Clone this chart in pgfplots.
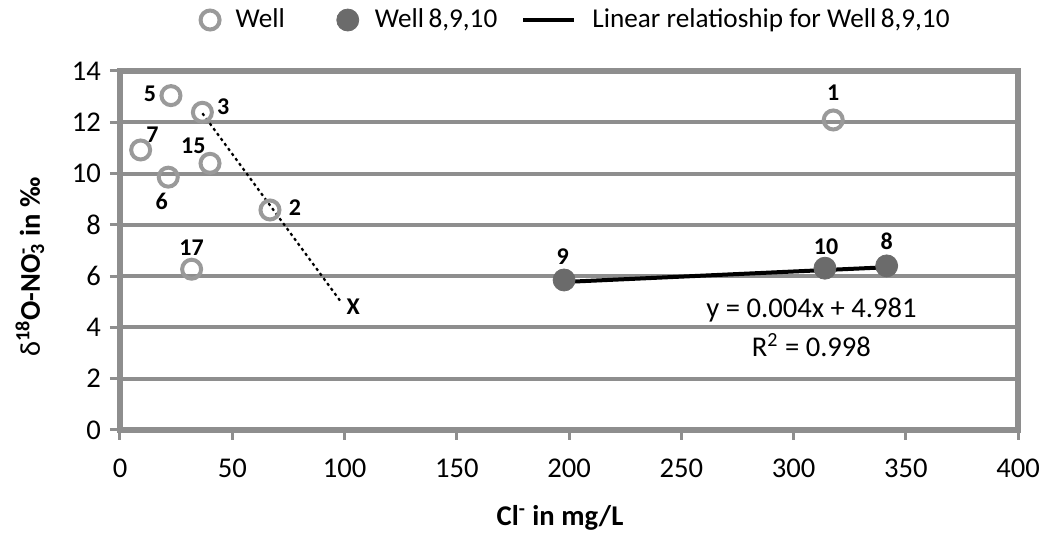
\documentclass[border=0pt]{standalone}
\usepackage{fontspec}
\setmainfont{Carlito}
\usepackage{pgfplots}
\pgfplotsset{compat=1.18}
\definecolor{axisgray}{HTML}{8E8E8E}
\definecolor{wellgray}{HTML}{9A9A9A}
\definecolor{darkwell}{HTML}{6B6B6B}

\begin{document}
\begin{tikzpicture}[font=\fontsize{14.3}{17}\selectfont]
\useasboundingbox (-60pt,-60pt) rectangle (462pt,215pt);
\begin{axis}[
  at={(0pt,0pt)}, anchor=south west,
  scale only axis, width=449pt, height=179.5pt,
  xmin=0, xmax=400, ymin=0, ymax=14,
  xtick={0,50,...,400}, ytick={0,2,...,14},
  xtick pos=lower, ytick pos=left,
  tick align=outside, major tick length=5pt,
  ymajorgrids, grid style={axisgray, line width=2pt},
  axis line style={axisgray, line width=3pt},
  tick style={axisgray, line width=1.5pt},
  /pgf/number format/assume math mode=true,
  xticklabel shift=6pt,
  yticklabel shift=1pt,
  xlabel={\bfseries Cl\textsuperscript{-} in mg/L},
  xlabel style={at={(axis description cs:0.49,-0.245)}, anchor=center},
  ylabel={δ\textbf{\textsuperscript{18}O-NO\rlap{\textsuperscript{-}}\textsubscript{3} in ‰}},
  ylabel style={at={(axis description cs:-0.1002,0.454)}, rotate=0, anchor=center},
  legend columns=3,
  legend style={draw=none, fill=none, at={(0.509,1.142)}, anchor=center,
    font=\fontsize{13.6}{16}\selectfont,
    /tikz/every odd column/.append style={column sep=6pt},
    /tikz/column 2/.style={column sep=24pt},
    /tikz/column 4/.style={column sep=10pt}},
  legend cell align=left,
]
% wells outside the 8/9/10 group
\addplot[only marks, mark=o, mark size=4.75pt,
  mark options={draw=wellgray, line width=2pt}]
  coordinates {(22.7,13.04) (36.7,12.39) (9.2,10.92) (40.1,10.40)
               (21.5,9.86) (66.8,8.58) (31.9,6.27) (317.7,12.09)};
\addlegendentry{Well}
% wells 8, 9 and 10
\addplot[only marks, mark=*, mark size=5.5pt,
  mark options={draw=darkwell, fill=darkwell}]
  coordinates {(197.8,5.85) (314.0,6.31) (341.5,6.40)};
\addlegendentry{Well\,8,9,10}
% trend line y = 0.004x + 4.981
\addplot[black, line width=2pt, forget plot]
  coordinates {(197.8,5.772) (341.5,6.347)};
\addlegendimage{black, line width=2pt, legend image post style={xscale=1.5}}
\addlegendentry{Linear relatioship for Well\,8,9,10}
% mixing line towards X
\addplot[black, line width=1.1pt, dash pattern=on 1.5pt off 1.6pt, forget plot]
  coordinates {(36.7,12.35) (98.8,4.95)};

\begin{scope}[every node/.style={font=\bfseries\fontsize{12}{14}\selectfont}]
\node at (axis cs:13.4,13.13) {5};
\node at (axis cs:46,12.61) {3};
\node at (axis cs:14.5,11.5) {7};
\node at (axis cs:32.7,11.08) {15};
\node at (axis cs:18.6,8.9) {6};
\node at (axis cs:77.9,8.69) {2};
\node at (axis cs:31.9,7.11) {17};
\node at (axis cs:317.7,13.14) {1};
\node at (axis cs:197.2,6.76) {9};
\node at (axis cs:314.5,7.15) {10};
\node at (axis cs:341.5,7.34) {8};
\node at (axis cs:103.9,4.81) {X};
\end{scope}
\node at (axis cs:308,4.68) {y = 0.004x + 4.981};
\node at (axis cs:308,3.31) {R\textsuperscript{2} = 0.998};
\end{axis}
\end{tikzpicture}
\end{document}
